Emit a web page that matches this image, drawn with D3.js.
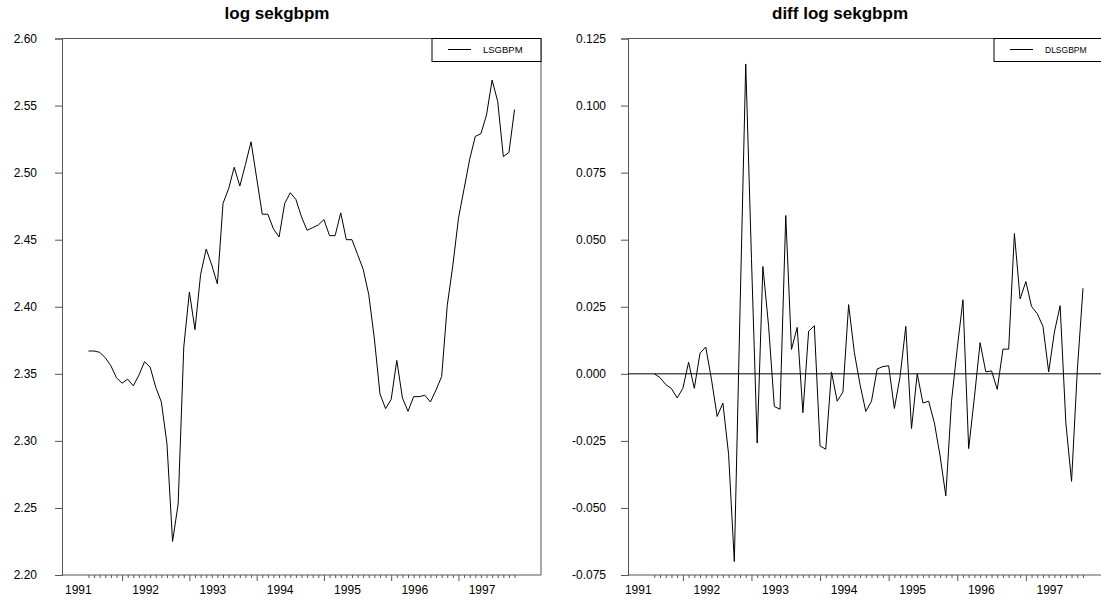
<!DOCTYPE html>
<html><head><meta charset="utf-8">
<script src="https://cdn.jsdelivr.net/npm/d3@7"></script>
<style>
body{margin:0;background:#fff}
svg{display:block}
text{font-family:"Liberation Sans",Arial,Helvetica,sans-serif;fill:#000}
</style>
</head><body>
<svg id="chart" width="1101" height="600"></svg>
<script>
// ---------------- data ----------------
const startYear = 1991;
const nObs = 77; // 1991M01 .. 1997M05
const months = d3.range(nObs).map(i => (startYear + Math.floor(i / 12)) + "M" + String(i % 12 + 1).padStart(2, "0"));
const yearLabels = ["1991", "1992", "1993", "1994", "1995", "1996", "1997"];

const lsgbpm = [
  2.367, 2.367, 2.366, 2.362, 2.356, 2.347, 2.343, 2.346, 2.341, 2.349, 2.359, 2.355,
  2.340, 2.329, 2.298, 2.225, 2.253, 2.370, 2.411, 2.383, 2.424, 2.443, 2.431, 2.417,
  2.477, 2.488, 2.504, 2.490, 2.506, 2.523, 2.496, 2.469, 2.469, 2.458, 2.452, 2.477,
  2.485, 2.480, 2.467, 2.457, 2.459, 2.461, 2.465, 2.453, 2.453, 2.470, 2.450, 2.450,
  2.439, 2.428, 2.409, 2.376, 2.335, 2.324, 2.331, 2.360, 2.332, 2.322, 2.333, 2.333,
  2.334, 2.329, 2.338, 2.348, 2.401, 2.431, 2.466, 2.488, 2.510, 2.527, 2.529, 2.543,
  2.569, 2.553, 2.512, 2.515, 2.547
];

const dlsgbpm = [
  null,
  0.0000, -0.0014, -0.0040, -0.0055, -0.0090, -0.0054, 0.0043, -0.0054, 0.0077, 0.0100, -0.0020,
  -0.0159, -0.0109, -0.0300, -0.0700, 0.0240, 0.1155, 0.0430, -0.0258, 0.0400, 0.0177, -0.0122, -0.0132,
  0.0590, 0.0091, 0.0173, -0.0145, 0.0159, 0.0179, -0.0269, -0.0281, 0.0007, -0.0102, -0.0068, 0.0258,
  0.0079, -0.0041, -0.0140, -0.0102, 0.0018, 0.0027, 0.0030, -0.0129, -0.0010, 0.0177, -0.0204, 0.0000,
  -0.0109, -0.0102, -0.0183, -0.0306, -0.0455, -0.0102, 0.0095, 0.0276, -0.0279, -0.0088, 0.0116, 0.0007,
  0.0011, -0.0058, 0.0092, 0.0092, 0.0523, 0.0279, 0.0344, 0.0251, 0.0224, 0.0177, 0.0007, 0.0156,
  0.0254, -0.0183, -0.0401, 0.0010, 0.0319
];

const leftTicks = [2.20, 2.25, 2.30, 2.35, 2.40, 2.45, 2.50, 2.55, 2.60];
const rightTicks = [-0.075, -0.050, -0.025, 0.000, 0.025, 0.050, 0.075, 0.100, 0.125];

// ---------------- drawing ----------------
const svg = d3.select("#chart");
const axisColor = "#555";

function panel(cfg) {
  const g = svg.append("g");
  const x = d3.scaleLinear().domain(cfg.xDomain).range([cfg.left, cfg.right]);
  const y = d3.scaleLinear().domain(cfg.yDomain).range([cfg.bottom, cfg.top]);

  // frame
  g.append("path")
    .attr("d", `M${cfg.left},${cfg.top}H${cfg.right}V${cfg.bottom}`)
    .attr("fill", "none").attr("stroke", axisColor).attr("stroke-width", 1);

  // y axis
  const ya = d3.axisLeft(y).tickValues(cfg.yTicks).tickSize(7).tickPadding(cfg.yPad)
    .tickFormat(v => d3.format(cfg.yFmt)(v).replace("\u2212", "-"));
  const yg = g.append("g").attr("transform", `translate(${cfg.left},0)`).call(ya);
  yg.select(".domain").attr("stroke", axisColor);
  yg.selectAll(".tick line").attr("stroke", axisColor);
  yg.selectAll("text").style("font-size", "12px").attr("fill", "#000");

  // x axis line
  g.append("line").attr("x1", cfg.left).attr("x2", cfg.right)
    .attr("y1", cfg.bottom).attr("y2", cfg.bottom).attr("stroke", axisColor);

  // minor/major ticks at each observation
  const tickIdx = d3.range(cfg.firstTick, nObs);
  const xa = d3.axisBottom(x).tickValues(tickIdx).tickSizeOuter(0).tickFormat("");
  const xg = g.append("g").attr("transform", `translate(0,${cfg.bottom})`).call(xa);
  xg.select(".domain").remove();
  xg.selectAll(".tick line").attr("stroke", axisColor)
    .attr("y2", d => (d % 12 === 6 ? 6 : 3));

  // year labels
  g.selectAll("text.yl").data(yearLabels).join("text")
    .attr("class", "yl")
    .attr("x", (d, k) => x(k * 12 - 1.8))
    .attr("y", cfg.bottom + 19)
    .attr("text-anchor", "middle")
    .style("font-size", "12px")
    .text(d => d);

  // zero line
  if (cfg.zero) {
    g.append("line").attr("x1", cfg.left).attr("x2", cfg.right)
      .attr("y1", y(0)).attr("y2", y(0)).attr("stroke", "#000");
  }

  // data line
  const line = d3.line().defined(d => d != null).x((d, i) => x(i)).y(d => y(d));
  g.append("path").datum(cfg.values).attr("d", line)
    .attr("fill", "none").attr("stroke", "#000").attr("stroke-width", 1);

  // title
  g.append("text").attr("x", cfg.titleX).attr("y", 19)
    .attr("text-anchor", "middle").style("font-size", "17px").style("font-weight", "bold")
    .text(cfg.title);

  // legend
  const lg = g.append("g");
  lg.append("rect").attr("x", cfg.legX).attr("y", cfg.top).attr("width", cfg.legW).attr("height", 23)
    .attr("fill", "#fff").attr("stroke", "#000");
  lg.append("line").attr("x1", cfg.legX + 16).attr("x2", cfg.legX + 39)
    .attr("y1", cfg.top + 11).attr("y2", cfg.top + 11).attr("stroke", "#000");
  lg.append("text").attr("x", cfg.legX + 51).attr("y", cfg.top + 14.5)
    .style("font-size", cfg.legFont).text(cfg.legText);
}

panel({
  left: 62, right: 541, top: 38.5, bottom: 575,
  xDomain: [-4.72, 80.72], yDomain: [2.20, 2.60], yTicks: leftTicks, yFmt: ".2f", yPad: 18,
  firstTick: 0, values: lsgbpm, zero: false,
  title: "log sekgbpm", titleX: 277,
  legX: 432, legW: 109, legText: "LSGBPM", legFont: "9.5px"
});

panel({
  left: 628, right: 1111, top: 38.5, bottom: 575,
  xDomain: [-3.6, 80.9], yDomain: [-0.075, 0.125], yTicks: rightTicks, yFmt: ".3f", yPad: 15,
  firstTick: 1, values: dlsgbpm, zero: true,
  title: "diff log sekgbpm", titleX: 840,
  legX: 994, legW: 117, legText: "DLSGBPM", legFont: "8.5px"
});
</script>
</body></html>
